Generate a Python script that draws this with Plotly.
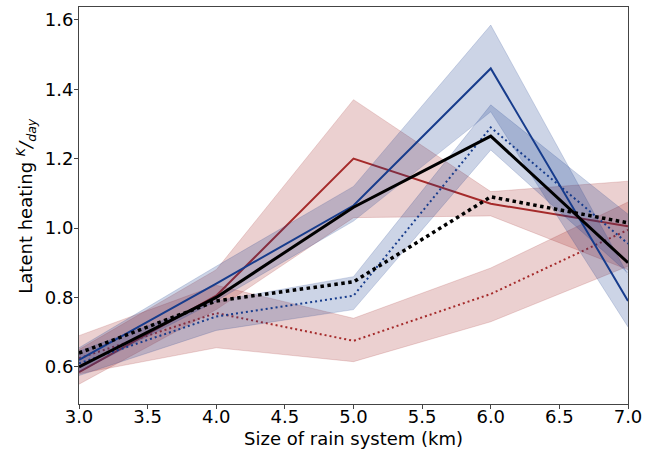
import plotly.graph_objects as go

sizes = [3.0, 4.0, 5.0, 6.0, 7.0]

blue_solid = [0.62, 0.84, 1.065, 1.46, 0.79]
blue_solid_lo = [0.585, 0.79, 1.02, 1.335, 0.715]
blue_solid_hi = [0.655, 0.89, 1.12, 1.585, 0.865]

blue_dot = [0.61, 0.745, 0.805, 1.29, 0.955]
blue_dot_lo = [0.575, 0.705, 0.765, 1.225, 0.87]
blue_dot_hi = [0.645, 0.79, 0.86, 1.355, 1.04]

red_solid = [0.585, 0.805, 1.20, 1.07, 1.005]
red_solid_lo = [0.55, 0.765, 1.03, 1.035, 0.88]
red_solid_hi = [0.65, 0.88, 1.37, 1.105, 1.135]

red_dot = [0.625, 0.755, 0.675, 0.81, 0.995]
red_dot_lo = [0.58, 0.655, 0.615, 0.73, 0.89]
red_dot_hi = [0.69, 0.835, 0.74, 0.885, 1.075]

black_solid = [0.60, 0.80, 1.06, 1.265, 0.90]
black_dot = [0.64, 0.79, 0.845, 1.09, 1.015]

x_title = "Size of rain system (km)"
y_title = "Latent heating <i><sup>K</sup>/<sub>day</sub></i>"

BLUE = "#173c8c"
RED = "#a52a2a"
BLUE_FILL = "rgba(23,60,140,0.22)"
RED_FILL = "rgba(165,42,42,0.22)"

fig = go.Figure()


def band(lo, hi, fill):
    fig.add_trace(go.Scatter(x=sizes, y=hi, mode="lines",
                             line=dict(color=fill, width=0.8),
                             showlegend=False, hoverinfo="skip"))
    fig.add_trace(go.Scatter(x=sizes, y=lo, mode="lines", fill="tonexty",
                             fillcolor=fill, line=dict(color=fill, width=0.8),
                             showlegend=False, hoverinfo="skip"))


def line(y, color, width, dash):
    fig.add_trace(go.Scatter(x=sizes, y=y, mode="lines",
                             line=dict(color=color, width=width, dash=dash),
                             showlegend=False))


band(red_solid_lo, red_solid_hi, RED_FILL)
line(red_solid, RED, 2, "solid")
band(red_dot_lo, red_dot_hi, RED_FILL)
line(red_dot, RED, 2, "2px,3px")
band(blue_solid_lo, blue_solid_hi, BLUE_FILL)
line(blue_solid, BLUE, 2, "solid")
band(blue_dot_lo, blue_dot_hi, BLUE_FILL)
line(blue_dot, BLUE, 2, "2px,3px")
line(black_solid, "black", 3, "solid")
line(black_dot, "black", 3.5, "3.5px,3.5px")

axis_common = dict(
    showline=True, linecolor="#444", linewidth=1, mirror=True,
    ticks="outside", ticklen=4, tickcolor="#444", tickwidth=1,
    showgrid=False, zeroline=False, automargin=False,
    tickfont=dict(size=18, color="black", family="DejaVu Sans"),
)

fig.update_layout(
    width=647, height=453,
    margin=dict(l=79, r=19, t=7, b=49),
    paper_bgcolor="white", plot_bgcolor="white",
    font=dict(family="DejaVu Sans", color="black"),
    xaxis=dict(range=[3, 7], dtick=0.5, tick0=3, tickformat=".1f",
               ticklabelstandoff=-8, **axis_common),
    yaxis=dict(range=[0.493, 1.637], dtick=0.2, tick0=0.6, tickformat=".1f",
               ticklabelstandoff=-3, **axis_common),
    annotations=[
        dict(text=x_title, xref="paper", yref="paper", x=0.5, y=-0.086,
             xanchor="center", yanchor="middle", showarrow=False,
             font=dict(size=18, color="black")),
        dict(text=y_title, xref="paper", yref="paper", x=-0.098, y=0.5,
             xanchor="center", yanchor="middle", textangle=-90,
             showarrow=False, font=dict(size=18, color="black")),
    ],
)

fig.write_html("out.html", config={"displayModeBar": False},
               post_script="document.body.style.margin='0px';document.body.style.overflow='hidden';")
